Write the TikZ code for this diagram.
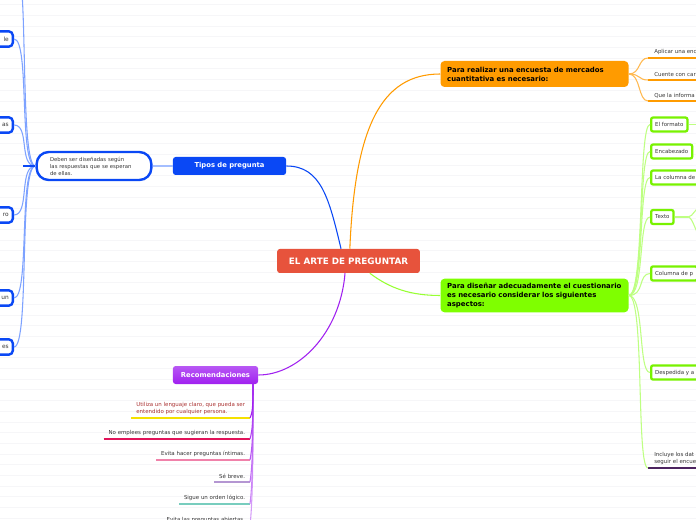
\documentclass[tikz,border=0pt]{standalone}
\usepackage{fontspec}
\setmainfont{DejaVu Sans}
\usepackage{tikz}
\usetikzlibrary{positioning}
\definecolor{rootred}{RGB}{231,83,60}
\definecolor{tipoblue}{RGB}{10,72,245}
\definecolor{linkblue}{RGB}{125,162,255}
\definecolor{recpurple}{RGB}{160,32,240}
\definecolor{orangemain}{RGB}{255,155,0}
\definecolor{orangelink}{RGB}{255,185,80}
\definecolor{greenmain}{RGB}{127,255,0}
\definecolor{greenbox}{RGB}{120,242,0}
\definecolor{greenlink}{RGB}{190,255,130}
\definecolor{inkred}{RGB}{170,50,50}
\definecolor{inkgray}{RGB}{55,55,55}
\definecolor{ulyellow}{RGB}{245,225,0}
\definecolor{ulcrimson}{RGB}{225,20,90}
\definecolor{ulpink}{RGB}{240,130,170}
\definecolor{ullilac}{RGB}{180,150,210}
\definecolor{ulteal}{RGB}{120,205,190}
\definecolor{ulplum}{RGB}{75,35,95}
\definecolor{paper}{RGB}{246,246,248}
\tikzset{
  rootbox/.style={rectangle, rounded corners=2pt, fill=rootred, text=white,
                  font=\bfseries\fontsize{6.6}{8}\selectfont,
                  minimum width=107pt, minimum height=18pt},
  topicbox/.style={rectangle, rounded corners=2pt, text=white,
                   font=\bfseries\fontsize{5.1}{6.5}\selectfont, minimum height=13.5pt},
  bigbox/.style={rectangle, rounded corners=3pt, align=left, text=black,
                 font=\bfseries\fontsize{5.2}{6.7}\selectfont,
                 inner xsep=5pt, text width=131pt},
  bluebox/.style={rectangle, rounded corners=3pt, draw=tipoblue, line width=1.8pt,
                  fill=white, text=inkgray, font=\fontsize{4.4}{5}\selectfont,
                  minimum height=11.5pt, text width=30pt, align=right, inner xsep=3pt},
  leafbox/.style={rectangle, rounded corners=1.5pt, draw=greenbox, line width=1.7pt,
                  fill=white, text=inkgray, font=\fontsize{4.1}{5}\selectfont,
                  minimum height=10.5pt, inner xsep=3pt},
  tip/.style={font=\fontsize{4.1}{5.3}\selectfont, text=inkgray, align=left,
              inner xsep=3.5pt, inner ysep=2pt},
  ulink/.style={line width=1.6pt},
  link/.style={line width=0.8pt},
}

\begin{document}
\begin{tikzpicture}[x=0.75pt, y=-0.75pt]
  \useasboundingbox (0,0) rectangle (696,520);
  \clip (0,0) rectangle (696,520);
  \fill[white] (0,0) rectangle (696,520);
  \foreach \y in {4.5,15.2,...,520} \draw[paper, line width=0.4pt] (0,\y) -- (696,\y);
  % central topic
  \node[rootbox] (root) at (348.5,261) {EL ARTE DE PREGUNTAR};
  % main branches
  \node[topicbox, fill=tipoblue, minimum width=84.8pt] (tipos) at (229.5,166) {Tipos de pregunta};
  \node[topicbox, top color=recpurple!75, bottom color=recpurple, minimum width=63.8pt] (recom) at (215.5,375) {Recomendaciones};
  \node[bigbox, fill=orangemain, minimum height=19.5pt] (encuesta) at (534.5,74)
       {Para realizar una encuesta de mercados\\cuantitativa es necesario:};
  \node[bigbox, fill=greenmain, minimum height=24.75pt] (diseno) at (534.5,295.5)
       {Para diseñar adecuadamente el cuestionario\\es necesario considerar los siguientes\\aspectos:};
  \draw[link, tipoblue] ([xshift=-5.6pt]root.north) .. controls +(-12,-50) and +(35,0) .. (tipos.east);
  \draw[link, orangemain] ([xshift=1pt]root.north) .. controls +(5,-120) and +(-60,0) .. (encuesta.west);
  \draw[link, recpurple] ([xshift=-2.6pt]root.south) .. controls +(-5,60) and +(40,0) .. (recom.east);
  \draw[link, greenmain!80] ([xshift=16pt]root.south) .. controls +(20,15) and +(-30,0) .. (diseno.west);
  % tipos de pregunta
  \node[rectangle, rounded corners=9pt, draw=tipoblue, line width=1.8pt, fill=white,
        text=inkgray, font=\fontsize{4}{5.3}\selectfont, align=left,
        text width=66pt, inner xsep=10pt, minimum height=21pt] (deben) at (94,166)
       {Deben ser diseñadas según\\las respuestas que se esperan\\de ellas.};
  \draw[line width=1.5pt, linkblue!70] (deben.east) -- (tipos.west);
  \node[bluebox, anchor=east] (qa) at (14,39) {le};
  \node[bluebox, anchor=east] (qb) at (14,125) {as};
  \node[bluebox, anchor=east] (qc) at (14,215) {ro};
  \node[bluebox, anchor=east] (qd) at (14,298) {un};
  \node[bluebox, anchor=east] (qe) at (14,347) {es};
  \coordinate (qtop) at (14,-45);
  \draw[link, linkblue] (deben.west) .. controls +(-17,0) and +(16,0) .. (qtop);
  \draw[link, linkblue] (deben.west) .. controls +(-17,0) and +(16,0) .. (qa.east);
  \draw[link, linkblue] (deben.west) .. controls +(-17,0) and +(16,0) .. (qb.east);
  \draw[link, linkblue] (deben.west) .. controls +(-17,0) and +(16,0) .. (qc.east);
  \draw[link, linkblue] (deben.west) .. controls +(-17,0) and +(16,0) .. (qd.east);
  \draw[link, linkblue] (deben.west) .. controls +(-17,0) and +(16,0) .. (qe.east);
  \draw[line width=1.5pt, tipoblue] (deben.west) -- +(-12,0);
  % recomendaciones
  \coordinate (recfoot) at (253,384);
  \node[tip, anchor=south east, text=inkred] (r1) at (250,418)
       {Utiliza un lenguaje claro, que pueda ser\\entendido por cualquier persona.};
  \node[tip, anchor=south east] (r2) at (250,439) {No emplees preguntas que sugieran la respuesta.};
  \node[tip, anchor=south east] (r3) at (250,460) {Evita hacer preguntas íntimas.};
  \node[tip, anchor=south east] (r4) at (250,482) {Sé breve.};
  \node[tip, anchor=south east] (r5) at (250,504) {Sigue un orden lógico.};
  \node[tip, anchor=south east] (r6) at (250,526) {Evita las preguntas abiertas.};
  \draw[ulink, ulyellow] (r1.south west) -- (r1.south east);
  \draw[ulink, ulcrimson] (r2.south west) -- (r2.south east);
  \draw[ulink, ulpink] (r3.south west) -- (r3.south east);
  \draw[ulink, ullilac] (r4.south west) -- (r4.south east);
  \draw[ulink, ulteal] (r5.south west) -- (r5.south east);
  \draw[ulink, ullilac] (r6.south west) -- (r6.south east);
  \draw[link, recpurple!45] (recfoot) .. controls +(0,70) and +(3,-30) .. (r6.south east);
  \draw[link, recpurple!55] (recfoot) .. controls +(0,60) and +(3,-25) .. (r5.south east);
  \draw[link, recpurple!65] (recfoot) .. controls +(0,50) and +(3,-20) .. (r4.south east);
  \draw[link, recpurple!75] (recfoot) .. controls +(0,40) and +(3,-15) .. (r3.south east);
  \draw[link, recpurple!85] (recfoot) .. controls +(0,30) and +(3,-10) .. (r2.south east);
  \draw[link, recpurple] (recfoot) .. controls +(0,18) and +(3,-6) .. (r1.south east);
  % encuesta de mercados
  \node[tip, anchor=south west, inner xsep=4.5pt] (o1) at (648,58) {Aplicar una enc};
  \node[tip, anchor=south west, inner xsep=4.5pt] (o2) at (648,80) {Cuente con car};
  \node[tip, anchor=south west, inner xsep=4.5pt] (o3) at (648,101) {Que la informa};
  \foreach \o in {o1,o2,o3} {
    \draw[ulink, orangemain] (\o.south west) -- (\o.south east);
    \draw[link, orangelink] (encuesta.east) .. controls +(12,0) and +(-10,0) .. (\o.south west);
  }
  % diseno del cuestionario
  \node[leafbox, anchor=west] (g1) at (650,124.5) {El formato};
  \node[leafbox, anchor=west] (g2) at (650,151.5) {Encabezado};
  \node[leafbox, anchor=west] (g3) at (650,177.5) {La columna de};
  \node[leafbox, anchor=west] (g4) at (650,217) {Texto};
  \node[leafbox, anchor=west] (g5) at (650,273.5) {Columna de p};
  \node[leafbox, anchor=west] (g6) at (650,372.5) {Despedida y a};
  \node[tip, anchor=south west, inner xsep=4.5pt] (g7) at (648,468) {Incluye los dat\\seguir el encue};
  \draw[ulink, ulplum] (g7.south west) -- (g7.south east);
  \foreach \g in {g1,g2,g3,g4,g5,g6} {
    \draw[link, greenlink] (diseno.east) .. controls +(16,0) and +(-12,0) .. (\g.west);
  }
  \draw[link, greenlink] (diseno.east) .. controls +(16,0) and +(-12,0) .. (g7.south west);
  \coordinate (gstub) at (700,124.5);
  \draw[link, greenlink] (g1.east) -- (gstub);
  \coordinate (tsplit) at (688,217);
  \coordinate (tup) at (700,207);
  \coordinate (tdown) at (700,235);
  \draw[link, greenlink] (g4.east) -- (tsplit);
  \draw[link, greenlink] (tsplit) .. controls +(5,0) and +(-4,0) .. (tup);
  \draw[link, greenlink] (tsplit) .. controls +(5,0) and +(-4,0) .. (tdown);
\end{tikzpicture}
\end{document}
